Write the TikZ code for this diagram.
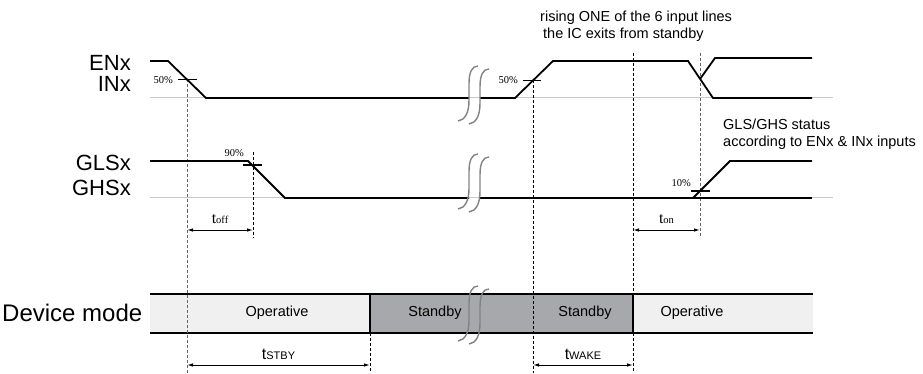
\documentclass[tikz,border=0pt]{standalone}
\usepackage{fontspec}
\setmainfont{Liberation Sans}
\newfontfamily\tms{Liberation Serif}
\usetikzlibrary{arrows.meta}

\definecolor{oplight}{RGB}{240,240,240}
\definecolor{stbydark}{RGB}{167,168,171}
\definecolor{baseg}{RGB}{200,200,200}
\definecolor{brkg}{RGB}{130,130,130}

\newcommand\tsym[1]{{\tms\fontsize{16}{16}\selectfont t\fontsize{10.5}{10.5}\selectfont #1}}
\newcommand\tcap[1]{{\fontsize{16}{16}\selectfont t\fontsize{11}{11}\selectfont #1}}

\tikzset{
  sig/.style={line width=1.8pt},
  baseln/.style={draw=baseg, line width=1pt},
  lvl/.style={line width=1.3pt},
  vln/.style={line width=0.9pt, dash pattern=on 3pt off 2pt},
  brk/.style={draw=brkg, line width=1.4pt},
  dim/.style={{Latex[length=6pt,width=3.5pt]}-{Latex[length=6pt,width=3.5pt]}, line width=1pt},
  big/.style={font=\fontsize{22}{22}\selectfont, inner sep=0pt},
  pct/.style={font=\tms\fontsize{10.5}{10.5}\selectfont, inner sep=0pt},
  note/.style={font=\fontsize{14.5}{14.5}\selectfont, inner sep=0pt},
}

\begin{document}
\begin{tikzpicture}[x=1pt,y=-1pt]
  \useasboundingbox (0,0) rectangle (923,374);

  % timing points
  \coordinate (en50)  at (187,79.5);
  \coordinate (gl90)  at (253,165);
  \coordinate (stby)  at (370,333);
  \coordinate (en50r) at (533,80.5);
  \coordinate (wake)  at (633,53);
  \coordinate (gl10)  at (700,53);
  \coordinate (bot)   at (0,373);
  \coordinate (row1)  at (0,230);
  \coordinate (row2)  at (0,365);

  % baselines
  \draw[baseln] (150,98) -- (833,98);
  \draw[baseln] (150,198) -- (833,198);

  % device mode bar
  \fill[oplight] (150,294) rectangle (370,333);
  \fill[stbydark] (370,294) rectangle (633,333);
  \fill[oplight] (633,294) rectangle (813,333);
  \draw[lvl] (150,294) -- (813,294);
  \draw[lvl] (150,333) -- (813,333);
  \draw[lvl] (370,294) -- (370,333);
  \draw[lvl] (633,294) -- (633,333);

  % dashed marks
  \draw[vln, draw=gray!80!black] (en50) -- (en50 |- bot);
  \draw[vln] (253,152) -- (253,238);
  \draw[vln] (stby) -- (stby |- bot);
  \draw[vln] (en50r) -- (en50r |- bot);
  \draw[vln] (wake) -- (wake |- bot);
  \draw[vln, draw=gray!80!black] (gl10) -- (700,238);

  % ENx / INx
  \draw[sig] (150,61) -- (168,61) -- (206,98) -- (469,98);
  \draw[sig] (480,98) -- (515,98) -- (553,61)
    -- (688,61) -- (713,98) -- (812,98);
  \draw[sig] (700,79) -- (715,58) -- (812,58);
  % GLSx / GHSx
  \draw[sig] (150,161) -- (248,161) -- (285,198) -- (469,198);
  \draw[sig] (480,198) -- (812,198);
  \draw[sig] (693,198) -- (730,161) -- (812,161);

  % level ticks
  \draw[lvl] (178,79.5) -- (197,79.5);
  \draw[lvl] (243,165) -- (262,165);
  \draw[lvl] (523,80.5) -- (541,80.5);
  \draw[lvl] (691,191) -- (710,191);

  % breaks
  \foreach \cy in {94,182,314} {
    \draw[brk] (458,\cy+27) .. controls (465,\cy+26) and (469,\cy+19) .. (469,\cy+6)
      -- (469,\cy-10) .. controls (469,\cy-22) and (472,\cy-28) .. (478,\cy-28);
    \draw[brk] (469,\cy+30) .. controls (476,\cy+29) and (480,\cy+22) .. (480,\cy+9)
      -- (480,\cy-7) .. controls (480,\cy-19) and (483,\cy-25) .. (489,\cy-25);
  }

  % time spans
  \draw[dim] (en50 |- row1) -- (gl90 |- row1)
    node[midway, above=6pt, inner sep=0pt] (toff) {\tsym{off}};
  \draw[dim] (wake |- row1) -- (gl10 |- row1)
    node[midway, above=6pt, inner sep=0pt] (ton) {\tsym{on}};
  \draw[dim] (en50 |- row2) -- (stby |- row2)
    node[midway, above=5pt, inner sep=0pt] (tstby) {\tcap{STBY}};
  \draw[dim] (en50r |- row2) -- (wake |- row2)
    node[midway, above=5pt, inner sep=0pt] (twake) {\tcap{WAKE}};

  % percent labels
  \node[pct, anchor=east] (p50) at (173,80) {50\%};
  \node[pct, anchor=east] (p90) at (244,153) {90\%};
  \node[pct, anchor=east] (p50r) at (518,80) {50\%};
  \node[pct, anchor=east] (p10) at (691,183) {10\%};

  % signal names
  \node[big, anchor=east] (enx) at (131,63) {ENx};
  \node[big, anchor=east] (inx) at (131,84) {INx};
  \node[big, anchor=east] (glsx) at (131,163) {GLSx};
  \node[big, anchor=east] (ghsx) at (131,188) {GHSx};
  \node[big, anchor=west, font=\fontsize{24}{24}\selectfont] (mode) at (2,313) {Device mode};

  % mode names
  \node[note] (op1) at (277,313) {Operative};
  \node[note] (sb1) at (435,313) {Standby};
  \node[note] (sb2) at (585,313) {Standby};
  \node[note] (op2) at (692,313) {Operative};

  % notes
  \node[note, anchor=base west] (rise1) at (540,22) {rising ONE of the 6 input lines};
  \node[note, anchor=base west] (rise2) at (543,39) {the IC exits from standby};
  \node[note, anchor=base west] (stat1) at (723,130) {GLS/GHS status};
  \node[note, anchor=base west] (stat2) at (723,147) {according to ENx \& INx inputs};
\end{tikzpicture}
\end{document}
